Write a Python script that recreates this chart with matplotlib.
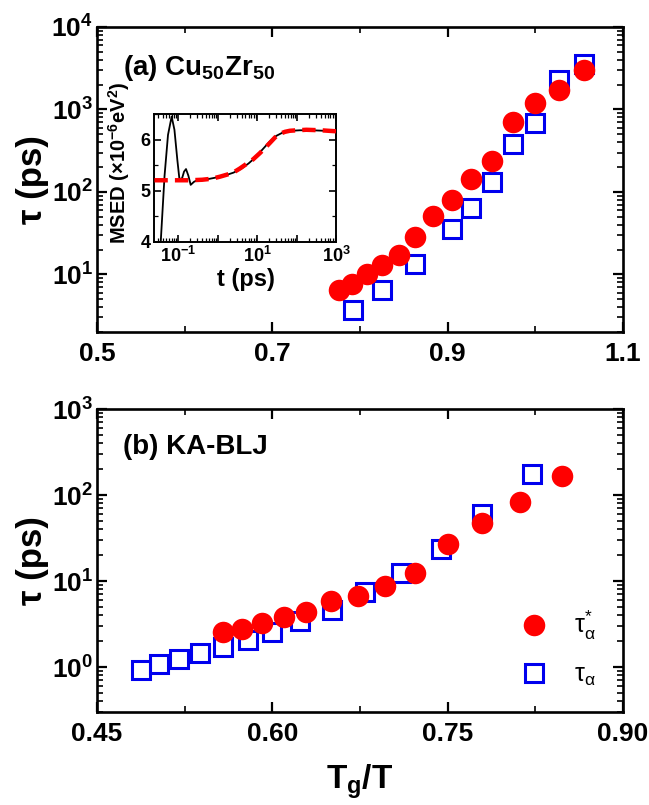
import numpy as np
import matplotlib
matplotlib.use("Agg")
import matplotlib.pyplot as plt
from matplotlib.ticker import LogLocator, MultipleLocator, FixedLocator, NullFormatter, FuncFormatter
from matplotlib.lines import Line2D

plt.rcParams['font.family'] = ['Liberation Sans', 'DejaVu Sans']
plt.rcParams['font.weight'] = 'bold'
plt.rcParams['mathtext.fontset'] = 'custom'
plt.rcParams['mathtext.rm'] = 'Liberation Sans:bold'
plt.rcParams['mathtext.bf'] = 'Liberation Sans:bold'
plt.rcParams['mathtext.it'] = 'Liberation Sans:bold:italic'

# ---------------- data: panel (a) Cu50Zr50 ----------------
a_star_x = [0.776, 0.791, 0.808, 0.825, 0.845, 0.863, 0.883, 0.905, 0.927, 0.950, 0.974, 1.000, 1.027, 1.056]
a_star_y = [6.5, 7.6, 10.2, 12.9, 17.3, 28.4, 50.6, 80.5, 145, 237, 704, 1197, 1706, 3040]
a_tau_x = [0.792, 0.825, 0.863, 0.905, 0.927, 0.950, 0.974, 1.000, 1.027, 1.056]
a_tau_y = [3.73, 6.5, 13.5, 35.9, 64.4, 132, 378, 685, 2254, 3590]
a_xticks = [0.5, 0.7, 0.9, 1.1]

# ---------------- data: panel (b) KA-BLJ ----------------
b_star_x = [0.558, 0.574, 0.591, 0.610, 0.629, 0.650, 0.673, 0.696, 0.722, 0.750, 0.779, 0.812, 0.848]
b_star_y = [2.58, 2.74, 3.27, 3.79, 4.36, 5.89, 6.77, 8.81, 12.5, 26.8, 47.4, 84, 165]
b_tau_x = [0.488, 0.503, 0.520, 0.538, 0.558, 0.579, 0.600, 0.624, 0.651, 0.679, 0.710, 0.744, 0.779, 0.822]
b_tau_y = [0.93, 1.09, 1.24, 1.44, 1.72, 2.05, 2.56, 3.41, 4.64, 7.5, 12.5, 23.5, 60.7, 177]
b_xticks = [0.45, 0.60, 0.75, 0.90]

# ---------------- inset: MSED(t) ----------------
msed_t = [0.030, 0.036, 0.045, 0.055, 0.068, 0.080, 0.095, 0.107, 0.125, 0.140, 0.157, 0.180, 0.206,
          0.25, 0.30, 0.45, 0.63, 1.0, 1.6, 2.5, 4.0, 6.0, 9.0, 13, 20, 30, 45, 70, 120, 250, 500, 1000]
msed_v = [2.5, 4.0, 5.3, 6.1, 6.46, 6.2, 5.6, 5.23, 5.25, 5.38, 5.43, 5.30, 5.12,
          5.18, 5.21, 5.22, 5.24, 5.27, 5.31, 5.36, 5.44, 5.54, 5.66, 5.80, 5.96, 6.08, 6.15, 6.18, 6.19, 6.19, 6.18, 6.18]
fit_t = [0.025, 0.05, 0.1, 0.2, 0.4, 0.7, 1.13, 1.7, 2.45, 3.6, 5.3, 7.8, 11.5, 15.5, 20.6, 28, 36.8, 50, 65.8, 100, 173, 400, 1000]
fit_v = [5.21, 5.21, 5.21, 5.21, 5.22, 5.24, 5.28, 5.32, 5.36, 5.44, 5.53, 5.62, 5.74, 5.84, 5.94, 6.05, 6.12, 6.16, 6.18, 6.19, 6.20, 6.19, 6.17]

RED = '#ff0000'
BLUE = '#0000ee'

fig = plt.figure(figsize=(6.49, 8.05), dpi=100)
ax1 = fig.add_axes([0.1495, 0.5876, 0.8105, 0.3789])
ax2 = fig.add_axes([0.1495, 0.1155, 0.8105, 0.3764])


def style_main(ax):
    for s in ax.spines.values():
        s.set_linewidth(1.9)
    ax.tick_params(which='both', direction='in', top=True, right=True, labelsize=19)
    ax.tick_params(which='major', length=7, width=1.6, pad=7)
    ax.tick_params(axis='y', which='major', pad=3)
    ax.tick_params(which='minor', length=4, width=1.2)
    ax.yaxis.set_major_locator(LogLocator(base=10, numticks=20))
    ax.yaxis.set_minor_locator(LogLocator(base=10, subs=np.arange(2, 10), numticks=50))
    ax.yaxis.set_minor_formatter(NullFormatter())
    for lab in ax.get_xticklabels() + ax.get_yticklabels():
        lab.set_fontweight('bold')


# panel (a)
ax1.plot(a_tau_x, a_tau_y, 's', ms=12.5, mfc='none', mec=BLUE, mew=2.2, zorder=3)
ax1.plot(a_star_x, a_star_y, 'o', ms=15.5, mfc=RED, mec='none', zorder=4)
ax1.set_yscale('log')
ax1.set_xlim(0.5, 1.1)
ax1.set_ylim(2, 1e4)
ax1.xaxis.set_major_locator(FixedLocator(a_xticks))
ax1.xaxis.set_minor_locator(FixedLocator([0.6, 0.8, 1.0]))
ax1.xaxis.set_major_formatter(FuncFormatter(lambda v, p: f"{v:.1f}"))
style_main(ax1)
ax1.set_ylabel(r"τ (ps)", fontsize=25, fontweight='bold')
ax1.yaxis.set_label_coords(-0.092, 0.5)
ax1.text(0.05, 0.865, r"(a) Cu$_{\mathdefault{50}}$Zr$_{\mathdefault{50}}$", transform=ax1.transAxes,
         fontsize=20, fontweight='bold', va='center', ha='left')

# panel (b)
ax2.plot(b_tau_x, b_tau_y, 's', ms=12.5, mfc='none', mec=BLUE, mew=2.2, zorder=3)
ax2.plot(b_star_x, b_star_y, 'o', ms=15.5, mfc=RED, mec='none', zorder=4)
ax2.set_yscale('log')
ax2.set_xlim(0.45, 0.90)
ax2.set_ylim(0.3, 1e3)
ax2.xaxis.set_major_locator(FixedLocator(b_xticks))
ax2.xaxis.set_minor_locator(FixedLocator([0.525, 0.675, 0.825]))
ax2.xaxis.set_major_formatter(FuncFormatter(lambda v, p: f"{v:.2f}"))
style_main(ax2)
ax2.set_ylabel(r"τ (ps)", fontsize=25, fontweight='bold')
ax2.yaxis.set_label_coords(-0.092, 0.5)
ax2.set_xlabel(r"T$_{\mathdefault{g}}$/T", fontsize=24, fontweight='bold', labelpad=12)
ax2.text(0.05, 0.875, "(b) KA-BLJ", transform=ax2.transAxes,
         fontsize=20, fontweight='bold', va='center', ha='left')

handles = [Line2D([], [], ls='none', marker='o', ms=15.5, mfc=RED, mec='none'),
           Line2D([], [], ls='none', marker='s', ms=12.5, mfc='none', mec=BLUE, mew=2.2)]
labels = [r"$\mathregular{τ}_{\mathregular{α}}^{\mathregular{*}}$", r"$\mathregular{τ}_{\mathregular{α}}$"]
leg = ax2.legend(handles, labels, loc='center left', bbox_to_anchor=(0.765, 0.21), frameon=False,
                 handlelength=1.0, handletextpad=1.1, labelspacing=0.8,
                 prop={'family': 'Liberation Sans', 'weight': 'normal', 'size': 18})

# inset
axi = fig.add_axes([0.238, 0.6994, 0.2804, 0.1584])
axi.plot(msed_t, msed_v, '-', color='black', lw=1.3, zorder=2)
axi.plot(fit_t, fit_v, '--', color=RED, lw=3.2, dashes=(3, 1.6), zorder=3)
axi.set_xscale('log')
axi.set_xlim(0.025, 1000)
axi.set_ylim(4, 6.5)
axi.xaxis.set_major_locator(LogLocator(base=10, numticks=20))
axi.xaxis.set_minor_locator(LogLocator(base=10, subs=np.arange(2, 10), numticks=50))
axi.xaxis.set_minor_formatter(NullFormatter())


def inset_fmt(v, p):
    e = int(round(np.log10(v)))
    if e % 2 != 0:
        return r"$\mathdefault{10^{%d}}$" % e
    return ""


axi.xaxis.set_major_formatter(FuncFormatter(inset_fmt))
axi.yaxis.set_major_locator(MultipleLocator(1))
axi.yaxis.set_minor_locator(MultipleLocator(0.5))
for s in axi.spines.values():
    s.set_linewidth(1.4)
axi.tick_params(which='both', direction='in', top=True, right=True, labelsize=13)
axi.tick_params(which='major', length=5, width=1.2, pad=3)
axi.tick_params(which='minor', length=3, width=0.9)
axi.set_xlabel("t (ps)", fontsize=17, fontweight='bold', labelpad=1)
axi.set_ylabel(r"MSED ($\mathdefault{\times}$10$^{\mathdefault{-6}}$eV$^{\mathdefault{2}}$)", fontsize=14.5, fontweight='bold')
axi.yaxis.set_label_coords(-0.125, 0.62)

fig.savefig("out.png", dpi=100)
